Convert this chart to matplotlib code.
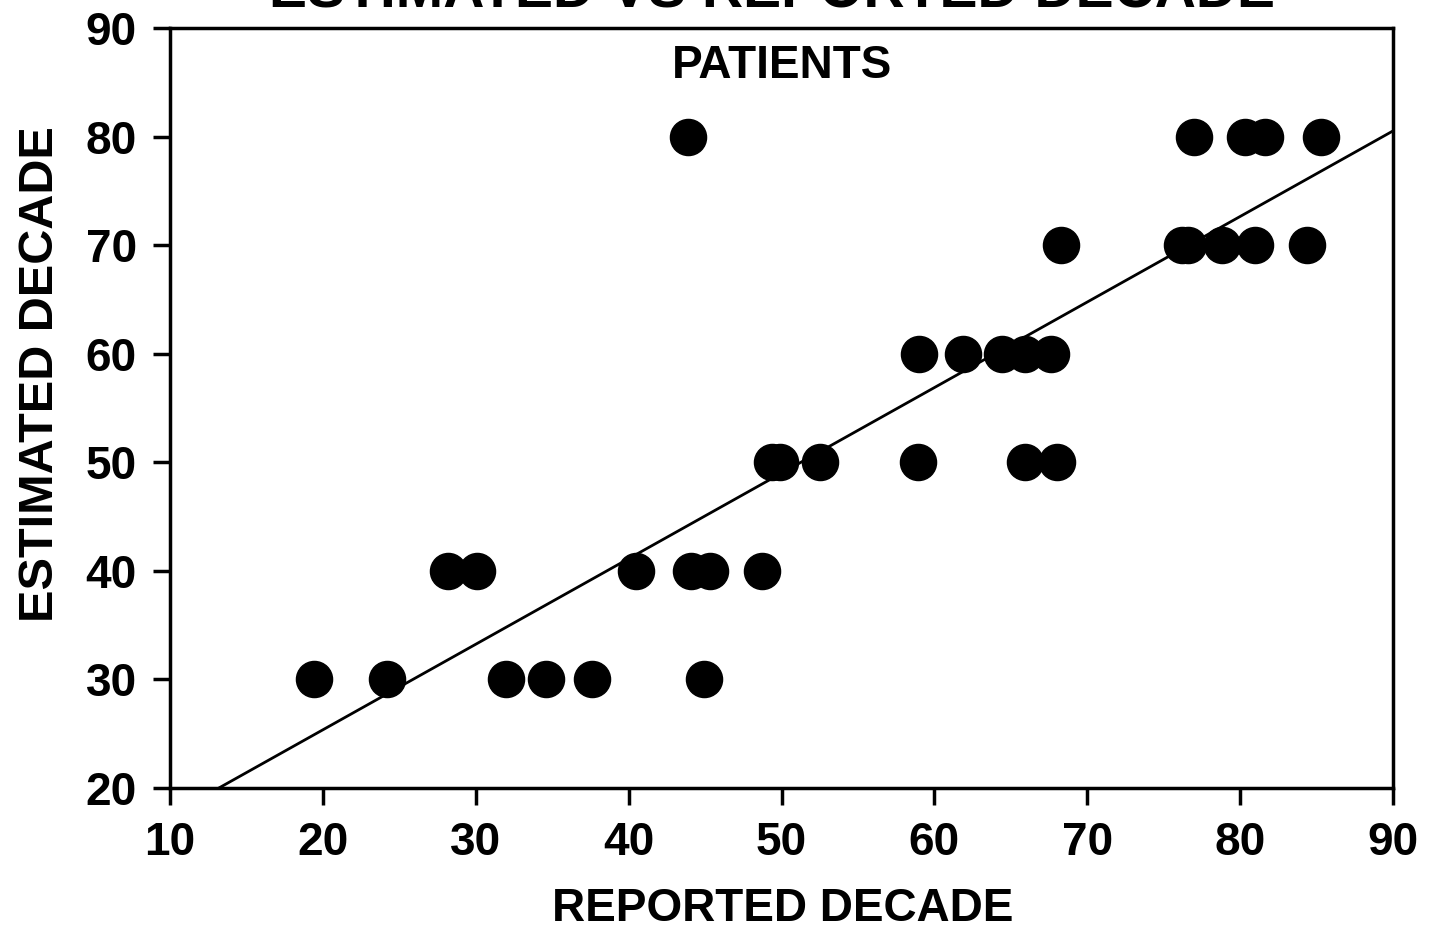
import matplotlib
matplotlib.use("Agg")
import matplotlib.pyplot as plt
import numpy as np

plt.rcParams['font.family'] = ['Liberation Sans', 'DejaVu Sans']
plt.rcParams['font.weight'] = 'bold'

# Data (reported decade, estimated decade)
reported = [19.4, 24.2, 32.0, 34.6, 37.6, 44.9,
            28.2, 30.1, 40.5, 44.1, 45.3, 48.7,
            49.4, 49.9, 52.5, 58.9, 65.9, 68.0,
            59.0, 61.9, 64.4, 65.9, 67.6,
            68.3, 76.2, 76.6, 78.8, 81.0, 84.4,
            43.9, 77.0, 80.3, 81.6, 85.3]
estimated = [30, 30, 30, 30, 30, 30,
             40, 40, 40, 40, 40, 40,
             50, 50, 50, 50, 50, 50,
             60, 60, 60, 60, 60,
             70, 70, 70, 70, 70, 70,
             80, 80, 80, 80, 80]

fit_intercept = 9.6
fit_slope = 0.788

x_ticks = [10, 20, 30, 40, 50, 60, 70, 80, 90]
y_ticks = [20, 30, 40, 50, 60, 70, 80, 90]

W, H = 1429, 936
fig = plt.figure(figsize=(W / 100, H / 100), dpi=100)
L, R, T, B = 170, 1393, 28, 788
ax = fig.add_axes([L / W, (H - B) / H, (R - L) / W, (B - T) / H])

ax.plot(reported, estimated, 'o', color='black', markersize=26, zorder=3)

xs = np.array([10, 90])
ys = fit_intercept + fit_slope * xs
ax.plot(xs, ys, color='black', linewidth=2.0, zorder=2, clip_on=True)

ax.set_xlim(10, 90)
ax.set_ylim(20, 90)
ax.set_xticks(x_ticks)
ax.set_yticks(y_ticks)
ax.set_xticklabels([str(t) for t in x_ticks], fontsize=33, fontweight='bold')
ax.set_yticklabels([str(t) for t in y_ticks], fontsize=33, fontweight='bold')
ax.tick_params(axis='both', direction='out', length=12, width=2.5, color='black')
ax.tick_params(axis='x', pad=12)
ax.tick_params(axis='y', pad=12)

for s in ax.spines.values():
    s.set_linewidth(2.5)
    s.set_color('black')

ax.set_xlabel('REPORTED DECADE', fontsize=33, fontweight='bold')
ax.set_ylabel('ESTIMATED DECADE', fontsize=35, fontweight='bold')
ax.xaxis.set_label_coords((783 - L) / (R - L), (B - 909) / (B - T))
ax.xaxis.label.set_va('center')
ax.yaxis.set_label_coords((41 - L) / (R - L), (B - 374) / (B - T))
ax.yaxis.label.set_va('center')
ax.yaxis.label.set_ha('center')

ax.text((782 - L) / (R - L), 1 - (66 - T) / (B - T), 'PATIENTS', transform=ax.transAxes,
        ha='center', va='center', fontsize=33, fontweight='bold')

fig.text(772 / W, 1 - 7 / H, 'ESTIMATED VS REPORTED DECADE', ha='center',
         va='baseline', fontsize=41, fontweight='bold')

fig.savefig('out.png', dpi=100, facecolor='white')
